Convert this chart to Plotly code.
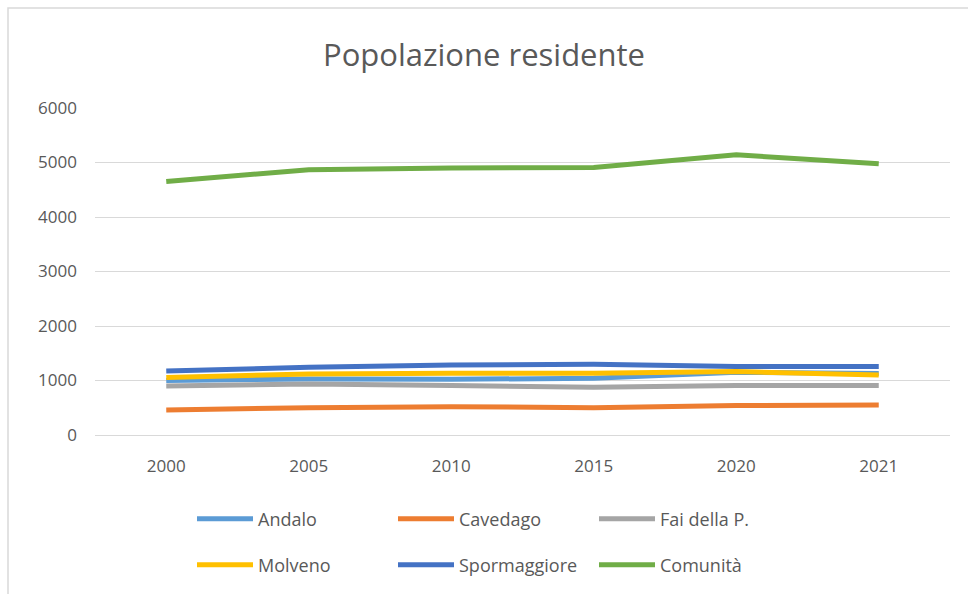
import plotly.graph_objects as go

years = ["2000", "2005", "2010", "2015", "2020", "2021"]
andalo = [1000, 1028, 1023, 1040, 1150, 1130]
cavedago = [459, 502, 520, 502, 539, 551]
fai = [900, 937, 906, 876, 906, 906]
molveno = [1053, 1120, 1133, 1133, 1163, 1102]
spormaggiore = [1175, 1243, 1286, 1298, 1255, 1255]
comunita = [4652, 4867, 4898, 4910, 5142, 4977]

series = [
    ("Andalo", andalo, "#5B9BD5", "legend"),
    ("Cavedago", cavedago, "#ED7D31", "legend"),
    ("Fai della P.", fai, "#A5A5A5", "legend"),
    ("Molveno", molveno, "#FFC000", "legend2"),
    ("Spormaggiore", spormaggiore, "#4472C4", "legend2"),
    ("Comunità", comunita, "#70AD47", "legend2"),
]

fig = go.Figure()
for name, vals, color, lg in series:
    fig.add_trace(go.Scatter(
        x=years, y=vals, name=name, mode="lines",
        line=dict(color=color, width=5),
        legend=lg,
    ))

W, H = 968, 594
L, R, T, B = 95, 18, 108, 159
pw, ph = W - L - R, H - T - B

def px_x(p):
    return (p - L) / pw

def px_y(p):
    return (H - B - p) / ph

font_fam = "Open Sans, Liberation Sans, sans-serif"
txt = "#595959"

legend_common = dict(
    orientation="h", xanchor="left", yanchor="middle",
    font=dict(size=18, color=txt, family=font_fam),
    entrywidth=130, entrywidthmode="pixels",
    bgcolor="rgba(0,0,0,0)", itemwidth=56,
)

fig.update_layout(
    width=W, height=H,
    margin=dict(l=L, r=R, t=T, b=B, autoexpand=False),
    paper_bgcolor="white", plot_bgcolor="white",
    font=dict(family=font_fam, color=txt),
    title=dict(text="Popolazione residente", x=0.5, xanchor="center",
               y=1 - 55 / H, yanchor="middle",
               font=dict(size=31, color=txt, family=font_fam)),
    xaxis=dict(type="category", range=[-0.5, 5.5], showgrid=False,
               zeroline=False, showline=False, ticks="",
               ticklabelstandoff=19,
               tickfont=dict(size=17, color=txt)),
    yaxis=dict(range=[0, 6000], dtick=1000, showgrid=True,
               gridcolor="#D9D9D9", gridwidth=1, zeroline=True,
               zerolinecolor="#D9D9D9", zerolinewidth=1,
               showline=False, ticks="", ticklabelstandoff=17,
               tickfont=dict(size=17, color=txt)),
    legend=dict(x=px_x(192), y=px_y(519), **legend_common),
    legend2=dict(x=px_x(192), y=px_y(565), **legend_common),
    shapes=[dict(type="rect", xref="paper", yref="paper",
                 x0=px_x(8), x1=px_x(1100), y0=px_y(700), y1=px_y(8),
                 line=dict(color="#D9D9D9", width=1.5), layer="below")],
)

fig.write_html(
    "out.html",
    config={"displayModeBar": False},
    post_script="document.body.style.margin='0';document.body.style.overflow='hidden';",
)
